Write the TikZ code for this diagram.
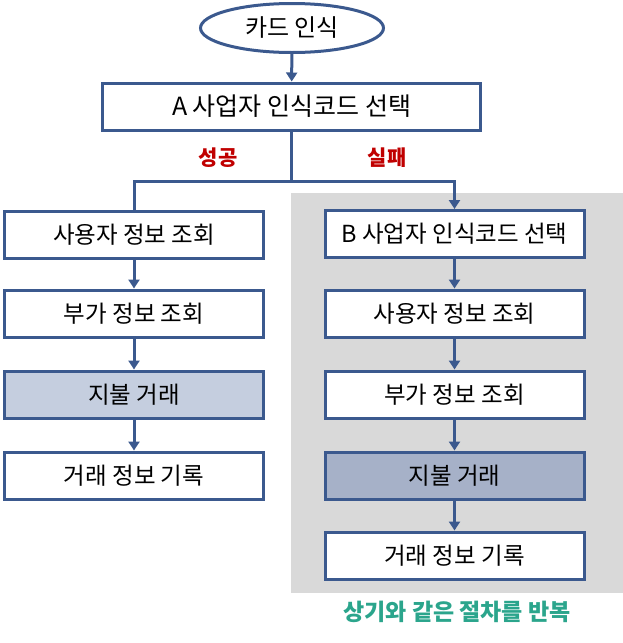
\documentclass[tikz,border=0pt]{standalone}
\usepackage{fontspec}
\setmainfont{Noto Sans CJK KR}
\usetikzlibrary{arrows.meta}
\usetikzlibrary{shapes.geometric}
\definecolor{flowblue}{RGB}{59,89,142}
\definecolor{paylight}{RGB}{197,206,223}
\definecolor{paydark}{RGB}{166,177,200}
\definecolor{bgray}{RGB}{217,217,217}
\definecolor{okred}{RGB}{192,0,0}
\definecolor{noteteal}{RGB}{43,165,140}

\begin{document}
\begin{tikzpicture}[x=1pt,y=-1pt,
    stepbox/.style={draw=flowblue,line width=3pt,fill=white,minimum width=259pt,minimum height=47pt,inner sep=0pt,font=\fontsize{23.5}{27}\selectfont},
    flow/.style={draw=flowblue,line width=3pt},
    arr/.style={flow,-{Triangle[width=11pt,length=9pt]}},
    tag/.style={font=\fontsize{21}{25}\selectfont\bfseries,text=okred}]
    \useasboundingbox (0,0) rectangle (623,643);
    \fill[bgray](291,193) rectangle (623,593);
    \node[ellipse,draw=flowblue,line width=3pt,minimum width=183pt,minimum height=49pt,inner sep=0pt,font=\fontsize{24}{28}\selectfont] (card) at (292,28){카드 인식};
    \node[stepbox,minimum width=378pt,font=\fontsize{25}{29}\selectfont] (selA) at (291.5,106.5){A 사업자 인식코드 선택};
    \node[tag] (ok) at (218,158){성공};
    \node[tag] (fail) at (387,158){실패};
    % 성공 쪽
    \node[stepbox] (u1) at (134,234.5){사용자 정보 조회};
    \node[stepbox] (u2) at (134,313.5){부가 정보 조회};
    \node[stepbox,fill=paylight] (u3) at (134,394.5){지불 거래};
    \node[stepbox] (u4) at (134,475.5){거래 정보 기록};
    % 실패 쪽
    \node[stepbox] (b1) at (454.5,234){B 사업자 인식코드 선택};
    \node[stepbox] (b2) at (454.5,313.5){사용자 정보 조회};
    \node[stepbox] (b3) at (454.5,394.5){부가 정보 조회};
    \node[stepbox,fill=paydark] (b4) at (454.5,475.5){지불 거래};
    \node[stepbox] (b5) at (454.5,555.5){거래 정보 기록};
    \node[font=\fontsize{23}{27}\selectfont\bfseries,text=noteteal] (note) at (457,612){상기와 같은 절차를 반복};
    \coordinate (split) at (291,181);
    \draw[arr](card)--(selA);
    \draw[flow](selA.south)|-(u1.north |- split)--(u1.north);
    \draw[arr](selA.south)|-(b1.north |- split)--(b1.north);
    \draw[arr](u1)--(u2);
    \draw[arr](u2)--(u3);
    \draw[arr](u3)--(u4);
    \draw[arr](b1)--(b2);
    \draw[arr](b2)--(b3);
    \draw[arr](b3)--(b4);
    \draw[arr](b4)--(b5);
\end{tikzpicture}
\end{document}
